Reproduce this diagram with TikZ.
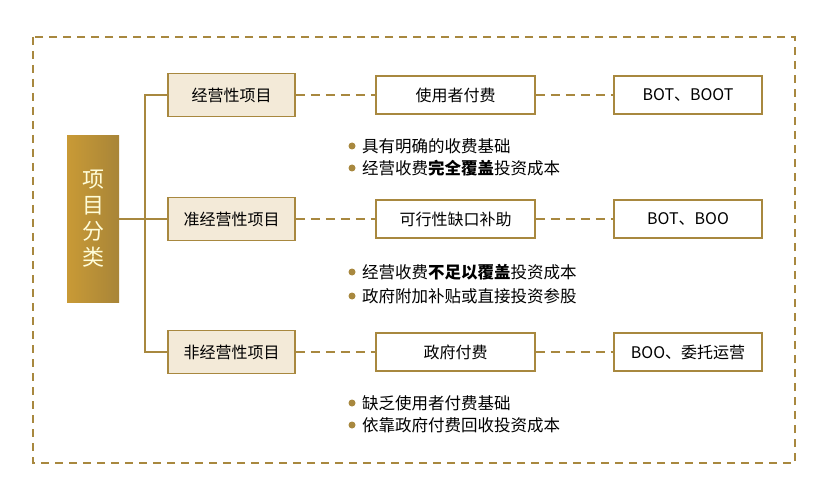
\documentclass[tikz,border=0pt]{standalone}
\usepackage{fontspec}
\setmainfont{Noto Sans CJK SC}
\definecolor{gl}{HTML}{A8883F}
\definecolor{lf}{HTML}{F3EAD8}
\definecolor{ga}{HTML}{C99A36}
\definecolor{gb}{HTML}{A88538}
\begin{document}
\begin{tikzpicture}[x=1pt,y=-1pt,
 cat/.style={draw=gl,line width=1.8pt,fill=lf,minimum width=127pt,minimum height=43pt,font=\fontsize{16}{18}\selectfont,inner sep=0pt},
 mid/.style={draw=gl,line width=1.8pt,fill=white,minimum width=159pt,minimum height=38pt,font=\fontsize{16}{18}\selectfont,inner sep=0pt},
 rt/.style={draw=gl,line width=1.8pt,fill=white,minimum width=148pt,minimum height=38pt,font=\fontsize{16}{18}\selectfont,inner sep=0pt},
 dl/.style={gl,line width=1.8pt,dash pattern=on 9pt off 6pt},
 sl/.style={gl,line width=1.8pt},
 bl/.style={anchor=west,font=\fontsize{16.5}{19}\selectfont,inner sep=0pt},
 dot/.style={circle,fill=gl,inner sep=0pt,minimum size=7pt}]
\fill[white] (0,0) rectangle (828,500);
\draw[gl,line width=1.8pt,dash pattern=on 8pt off 6pt] (33,37) rectangle (795,463);
\node[minimum width=52pt,minimum height=166pt,inner sep=0pt,left color=ga,right color=gb,text=white!85!yellow,font=\fontsize{22}{26}\selectfont,align=center] (root) at (93,219) {项\\目\\分\\类};
\node[cat] (c1) at (231.5,95) {经营性项目};
\node[cat] (c2) at (231.5,219) {准经营性项目};
\node[cat] (c3) at (231.5,352) {非经营性项目};
\node[mid] (m1) at (455.5,95) {使用者付费};
\node[mid] (m2) at (455.5,219) {可行性缺口补助};
\node[mid] (m3) at (455.5,352) {政府付费};
\node[rt] (r1) at (688,95) {BOT、BOOT};
\node[rt] (r2) at (688,219) {BOT、BOO};
\node[rt] (r3) at (688,352) {BOO、委托运营};
\coordinate (t1) at (145,95);
\coordinate (t3) at (145,352);
\draw[sl] (root.east) -- (c2.west);
\draw[sl] (c1.west) -- (t1) -- (t3) -- (c3.west);
\foreach \i in {1,2,3}{\draw[dl] (c\i) -- (m\i); \draw[dl] (m\i) -- (r\i);}
\foreach \n/\y/\t in {a/146/具有明确的收费基础,b/168/经营收费\textbf{完全覆盖}投资成本,c/272/经营收费\textbf{不足以覆盖}投资成本,d/296/政府附加补贴或直接投资参股,e/403/缺乏使用者付费基础,f/425/依靠政府付费回收投资成本}{
 \node[dot] (d\n) at (352,\y) {};
 \node[bl] (b\n) at (362,\y) {\t};}
\end{tikzpicture}
\end{document}
